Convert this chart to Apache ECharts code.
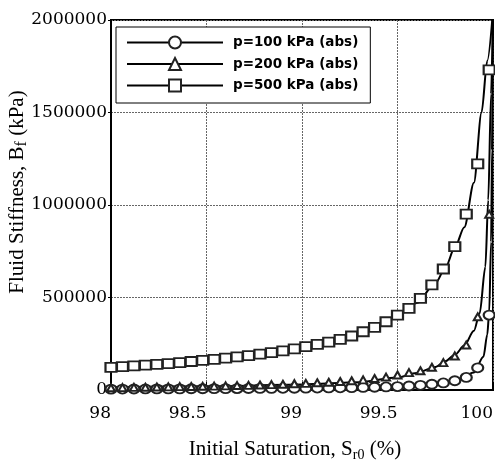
<!DOCTYPE html>
<html>
<head>
<meta charset="utf-8">
<script src="https://cdn.jsdelivr.net/npm/echarts@6/dist/echarts.min.js"></script>
<style>
  html, body { margin: 0; padding: 0; background: #fff; }
  #chart { width: 495px; height: 463px; }
</style>
</head>
<body>
<div id="chart"></div>
<script>
// saturation values where the markers sit
const markSat = [98.00, 98.06, 98.12, 98.18, 98.24, 98.30, 98.36, 98.42, 98.48, 98.54,
  98.60, 98.66, 98.72, 98.78, 98.84, 98.90, 98.96, 99.02, 99.08, 99.14,
  99.20, 99.26, 99.32, 99.38, 99.44, 99.50, 99.56, 99.62, 99.68, 99.74,
  99.80, 99.86, 99.92, 99.98]

const mark100 = [5000, 5200, 5400, 5600, 5800, 6000, 6300, 6600, 6900, 7200,
  7600, 7800, 8100, 8400, 8800, 9200, 9600, 10100, 10600, 11200,
  11900, 12700, 13700, 14900, 16500, 18500, 21500, 25500, 31000, 38000,
  50000, 68000, 120000, 405000]
const mark200 = [12000, 13000, 14000, 15000, 16000, 17000, 18000, 19000, 20000, 21000,
  22000, 24000, 25000, 27000, 29000, 31000, 34000, 36000, 39000, 42000,
  46000, 50000, 55000, 62000, 70000, 81000, 94000, 104000, 123000, 148000,
  184000, 243000, 396000, 950000]
const mark500 = [122000, 126000, 130000, 134000, 139000, 143000, 148000, 154000, 160000, 166000,
  172000, 179000, 186000, 194000, 202000, 211000, 222000, 234000, 247000, 259000,
  274000, 292000, 315000, 339000, 369000, 405000, 441000, 495000, 568000, 654000,
  775000, 951000, 1222000, 1730000]

// solid curves
const line100Sat = [98.0, 98.5, 99.0, 99.5, 99.7, 99.8, 99.9, 99.95, 99.97, 99.98, 99.99, 99.995, 100]
const line100 = [5000, 7000, 10000, 19000, 30000, 48000, 95000, 180000, 300000, 420000, 800000, 1300000, 2050000]
const line200Sat = [98.0, 98.5, 99.0, 99.3, 99.5, 99.6, 99.7, 99.75, 99.8, 99.85, 99.9, 99.93, 99.96, 99.975, 99.99, 100]
const line200 = [15000, 20000, 30000, 42000, 68000, 92000, 125000, 155000, 190000, 240000, 320000, 414000, 666000, 1027000, 1600000, 2050000]
const line500Sat = [98.0, 98.2, 98.4, 98.6, 98.8, 99.0, 99.1, 99.2, 99.3, 99.4, 99.5, 99.6, 99.7, 99.75, 99.8, 99.85, 99.9, 99.94, 99.97, 100]
const line500 = [112000, 127000, 144000, 165000, 190000, 220000, 240000, 265000, 310000, 350000, 400000, 470000, 580000, 660000, 770000, 880000, 1120000, 1500000, 1780000, 2050000]

const names = ['p=100 kPa (abs)', 'p=200 kPa (abs)', 'p=500 kPa (abs)']
const yTicks = [0, 500000, 1000000, 1500000, 2000000]
const xTicks = [98, 98.5, 99, 99.5, 100]

const zip = (xs, ys) => xs.map((x, i) => [x, ys[i]])

function curve(xs, ys) {
  return {
    type: 'line',
    name: 'curve',
    data: zip(xs, ys),
    symbol: 'none',
    smooth: 0.3,
    smoothMonotone: 'x',
    lineStyle: { color: '#000', width: 2 },
    z: 3,
    silent: true
  }
}

function marks(name, ys, symbol, size) {
  return {
    type: 'line',
    name: name,
    data: zip(markSat, ys),
    symbol: symbol,
    symbolSize: size,
    showAllSymbol: true,
    lineStyle: { opacity: 0 },
    itemStyle: { color: '#222', borderWidth: 0.8 },
    z: 4
  }
}

const chart = echarts.init(document.getElementById('chart'))
const serif = '"Liberation Serif", "Times New Roman", serif'
const tickFont = '"DejaVu Serif", serif'

chart.setOption({
  animation: false,
  backgroundColor: '#fff',
  grid: {
    left: 111, top: 20, right: 2, bottom: 73,
    outerBoundsMode: 'none',
    containLabel: false,
    show: true, borderColor: '#000', borderWidth: 2
  },
  legend: {
    data: names,
    orient: 'vertical',
    left: 116,
    top: 27,
    itemWidth: 96,
    itemHeight: 15,
    itemGap: 6.5,
    padding: [8, 12, 10, 10],
    backgroundColor: '#fff',
    borderColor: '#000',
    borderWidth: 1,
    borderRadius: 0,
    selectedMode: false,
    lineStyle: { color: '#000', width: 2, opacity: 1 },
    itemStyle: { borderWidth: 1 },
    textStyle: {
      fontFamily: '"DejaVu Sans", sans-serif',
      fontWeight: 'bold',
      fontSize: 13.5,
      lineHeight: 15,
      color: '#000',
      padding: [0, 0, 0, 5]
    }
  },
  xAxis: {
    type: 'value',
    min: 98,
    max: 100,
    interval: 0.5,
    name: '{t|Initial Saturation, S}{s|r0}{t| (%)}',
    nameLocation: 'middle',
    nameGap: 46,
    nameMoveOverlap: false,
    nameTextStyle: {
      padding: [0, 14, 0, 0],
      rich: {
        t: { fontFamily: serif, fontSize: 21, color: '#000', lineHeight: 26, verticalAlign: 'middle' },
        s: { fontFamily: serif, fontSize: 14, color: '#000', lineHeight: 14, verticalAlign: 'bottom' }
      }
    },
    axisLine: { lineStyle: { color: '#000', width: 2 } },
    axisTick: { inside: true, length: 8, lineStyle: { color: '#000' } },
    axisLabel: {
      fontFamily: tickFont, fontSize: 17, color: '#000', align: 'right', margin: 15,
      formatter: v => (xTicks.indexOf(v) >= 0 ? String(v) : '')
    },
    splitLine: { show: true, lineStyle: { color: '#666', width: 1, type: [2, 1] } }
  },
  yAxis: {
    type: 'value',
    min: 0,
    max: 2000000,
    interval: 500000,
    name: '{t|Fluid Stiffness, B}{s|f}{t| (kPa)}',
    nameLocation: 'middle',
    nameRotate: 90,
    nameGap: 81,
    nameMoveOverlap: false,
    nameTextStyle: {
      padding: [0, 0, 0, 26],
      rich: {
        t: { fontFamily: serif, fontSize: 21, color: '#000', lineHeight: 26, verticalAlign: 'middle' },
        s: { fontFamily: serif, fontSize: 16, color: '#000', lineHeight: 16, verticalAlign: 'bottom' }
      }
    },
    axisLine: { lineStyle: { color: '#000', width: 2 } },
    axisTick: { inside: false, length: 3, lineStyle: { color: '#000' } },
    axisLabel: {
      fontFamily: tickFont, fontSize: 17, color: '#000', margin: 4,
      formatter: v => (yTicks.indexOf(v) >= 0 ? String(v) : '')
    },
    splitLine: { show: true, lineStyle: { color: '#666', width: 1, type: [2, 1] } }
  },
  series: [
    curve(line100Sat, line100),
    curve(line200Sat, line200),
    curve(line500Sat, line500),
    marks(names[0], mark100, 'emptyCircle', [11, 9]),
    marks(names[1], mark200, 'emptyTriangle', [8, 7]),
    marks(names[2], mark500, 'emptyRect', [11, 9])
  ]
})
</script>
</body>
</html>
